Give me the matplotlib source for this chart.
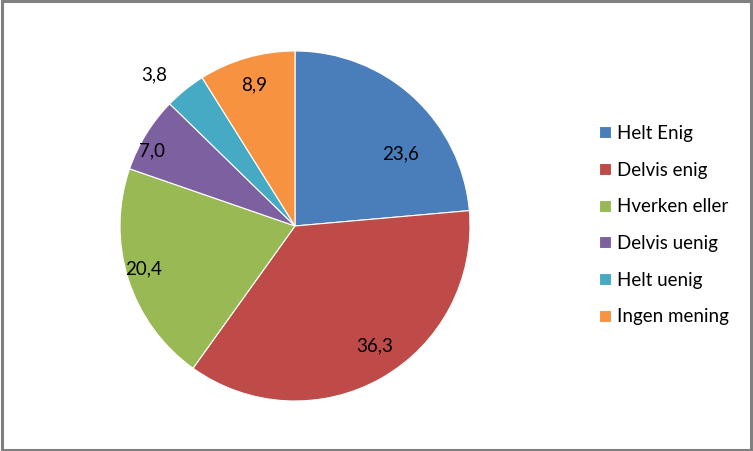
#!/usr/bin/env python3

import matplotlib
matplotlib.use("Agg")
import numpy as np
import matplotlib.pyplot as plt
from matplotlib.patches import Rectangle

categories = ["Helt Enig", "Delvis enig", "Hverken eller", "Delvis uenig", "Helt uenig", "Ingen mening"]
values = [23.6, 36.3, 20.4, 7.0, 3.8, 8.9]
labels = ["23,6", "36,3", "20,4", "7,0", "3,8", "8,9"]
colors = ["#4A7EBB", "#BE4B48", "#98B954", "#7D60A0", "#46AAC5", "#F69240"]

# label placement relative to slice middle (angle shift in degrees, radius)
label_shift = [-13, 4, -2, 4, 4, 0]
label_radius = [0.73, 0.82, 0.90, 0.92, 1.18, 0.84]


def main():
    plt.rcParams['font.family'] = ['Lato', 'DejaVu Sans']
    fig = plt.figure(figsize=(7.53, 4.51), dpi=100)

    ax = fig.add_axes([120 / 753, 50 / 451, 350 / 753, 350 / 451])
    wedges, _ = ax.pie(values, colors=colors, startangle=90, counterclock=False,
                       radius=1, wedgeprops=dict(edgecolor="white", linewidth=0.8))
    ax.set_xlim(-1, 1)
    ax.set_ylim(-1, 1)
    ax.set_aspect("equal")
    ax.axis("off")

    for w, lab, sh, r in zip(wedges, labels, label_shift, label_radius):
        mid = np.deg2rad((w.theta1 + w.theta2) / 2 + sh)
        ax.text(r * np.cos(mid), r * np.sin(mid), lab, ha="center", va="center",
                fontsize=13.5, color="black")

    fig.legend(wedges, categories, loc="upper left",
               bbox_to_anchor=(582 / 753, 1 - 108 / 451), frameon=False,
               fontsize=13.5, handlelength=0.62, handleheight=0.62,
               handletextpad=0.35, labelspacing=1.05)

    fig.patches.append(Rectangle((0.002, 0.003), 0.995, 0.994, transform=fig.transFigure,
                                 fill=False, edgecolor="#808080", linewidth=2.2))

    fig.savefig("out.png", dpi=100)


if __name__ == '__main__':
    main()
